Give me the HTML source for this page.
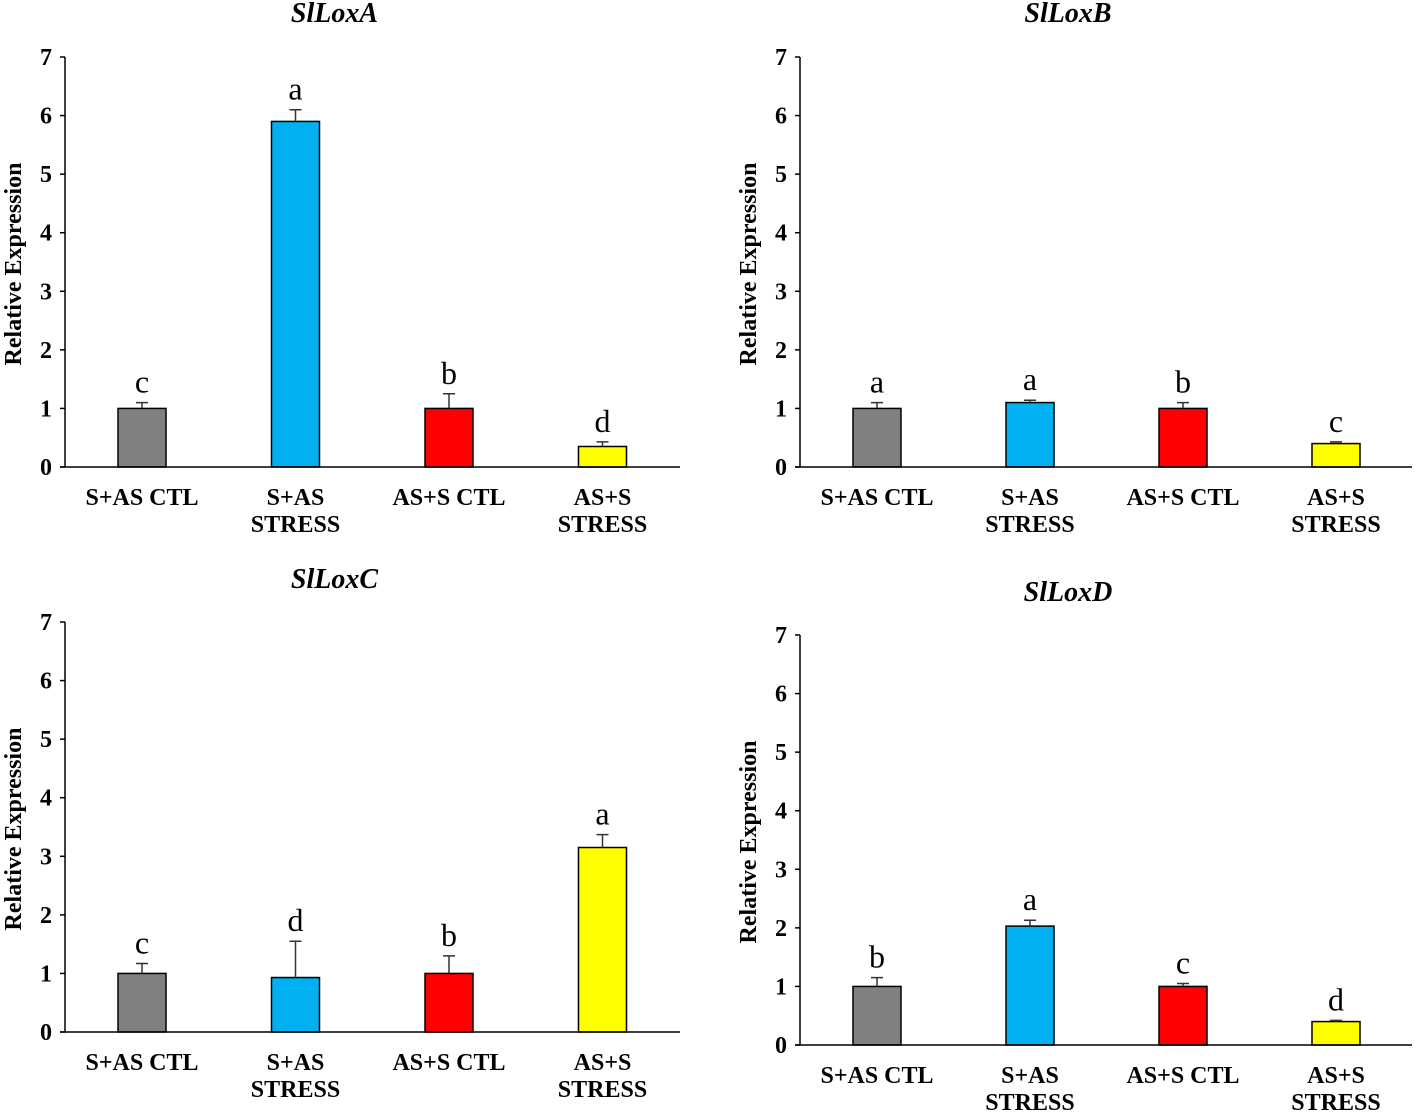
<!DOCTYPE html>
<html><head><meta charset="utf-8"><style>
html,body{margin:0;padding:0;background:#fff;}
svg{display:block;font-family:"Liberation Serif",serif;}
</style></head><body>
<svg id="fig" width="1417" height="1113" viewBox="0 0 1417 1113" xmlns="http://www.w3.org/2000/svg"></svg>
<script>
const categories = [["S+AS CTL"],["S+AS","STRESS"],["AS+S CTL"],["AS+S","STRESS"]];
const colors = ["#808080","#00b0f0","#ff0000","#ffff00"];
const yTicks = [0,1,2,3,4,5,6,7];
const titles = ["SlLoxA","SlLoxB","SlLoxC","SlLoxD"];
const valsA = [1.0,5.9,1.0,0.35];
const errA = [0.1,0.2,0.25,0.08];
const letA = ["c","a","b","d"];
const valsB = [1.0,1.1,1.0,0.4];
const errB = [0.1,0.04,0.1,0.03];
const letB = ["a","a","b","c"];
const valsC = [1.0,0.93,1.0,3.15];
const errC = [0.17,0.62,0.3,0.22];
const letC = ["c","d","b","a"];
const valsD = [1.0,2.03,1.0,0.4];
const errD = [0.15,0.1,0.05,0.02];
const letD = ["b","a","c","d"];

const panels = [
 {ax:65,x1:680,y0:467,y7:57,ty:22,v:valsA,e:errA,l:letA,c0:142,step:153.5},
 {ax:800,x1:1412,y0:467,y7:57,ty:22,v:valsB,e:errB,l:letB,c0:877,step:153},
 {ax:65,x1:680,y0:1032,y7:622,ty:588,v:valsC,e:errC,l:letC,c0:142,step:153.5},
 {ax:800,x1:1412,y0:1045,y7:635,ty:601,v:valsD,e:errD,l:letD,c0:877,step:153}
];
const svg = document.getElementById('fig');
const NS = "http://www.w3.org/2000/svg";
function mk(tag, attrs, parent){const el=document.createElementNS(NS,tag);for(const k in attrs)el.setAttribute(k,attrs[k]);(parent||svg).appendChild(el);return el;}

panels.forEach((p,pi)=>{
  const g = mk('g',{});
  
  
  const ys = v => p.y0 - v*(p.y0-p.y7)/7;
  const xs = i => p.c0 + i*p.step;
  const t = mk('text',{x:(p.ax+p.x1)/2-38,y:p.ty,'text-anchor':'middle','font-size':28,'font-weight':'bold','font-style':'italic'},g);
  t.textContent = titles[pi];
  
  
  const yt = mk('text',{x:0,y:0,'text-anchor':'middle','font-size':24,'font-weight':'bold',transform:`translate(${p.ax-44},${(p.y0+p.y7)/2+2}) rotate(-90)`},g);
  yt.textContent = "Relative Expression";
  
  
  yTicks.forEach(v=>{
    const tk = mk('line',{x1:p.ax-5,x2:p.ax,y1:ys(v),y2:ys(v),stroke:'#000','stroke-width':1.5},g);
    
    
    const tl = mk('text',{x:p.ax-13,y:ys(v)+8,'text-anchor':'end','font-size':24,'font-weight':'bold'},g);
    tl.textContent = v;
    
    
  });
  p.v.forEach((v,i)=>{
    const x = xs(i);
    const b = mk('rect',{x:x-24,y:ys(v),width:48,height:p.y0-ys(v),fill:colors[i],stroke:'#000','stroke-width':1.5},g);
    
    
    const top = ys(v+p.e[i]);
    const eb = mk('path',{d:`M${x},${ys(v)} V${top} M${x-6},${top} H${x+6}`,stroke:'#333','stroke-width':1.5,fill:'none'},g);
    
    
    const lt = mk('text',{x:x,y:top-10,'text-anchor':'middle','font-size':32},g);
    lt.textContent = p.l[i];
    
    
    const cl = mk('text',{x:x,y:p.y0+38,'text-anchor':'middle','font-size':24,'font-weight':'bold'},g);
    
    
    categories[i].forEach((s,k)=>{const ts=mk('tspan',{x:x,dy:k?27:0},cl);ts.textContent=s;});
  });
  const ya = mk('line',{x1:p.ax,x2:p.ax,y1:p.y7,y2:p.y0,stroke:'#000','stroke-width':1.5},g);
  
  
  const xa = mk('line',{x1:p.ax-5,x2:p.x1,y1:p.y0,y2:p.y0,stroke:'#000','stroke-width':1.5},g);
  
  
});
</script>
</body></html>
